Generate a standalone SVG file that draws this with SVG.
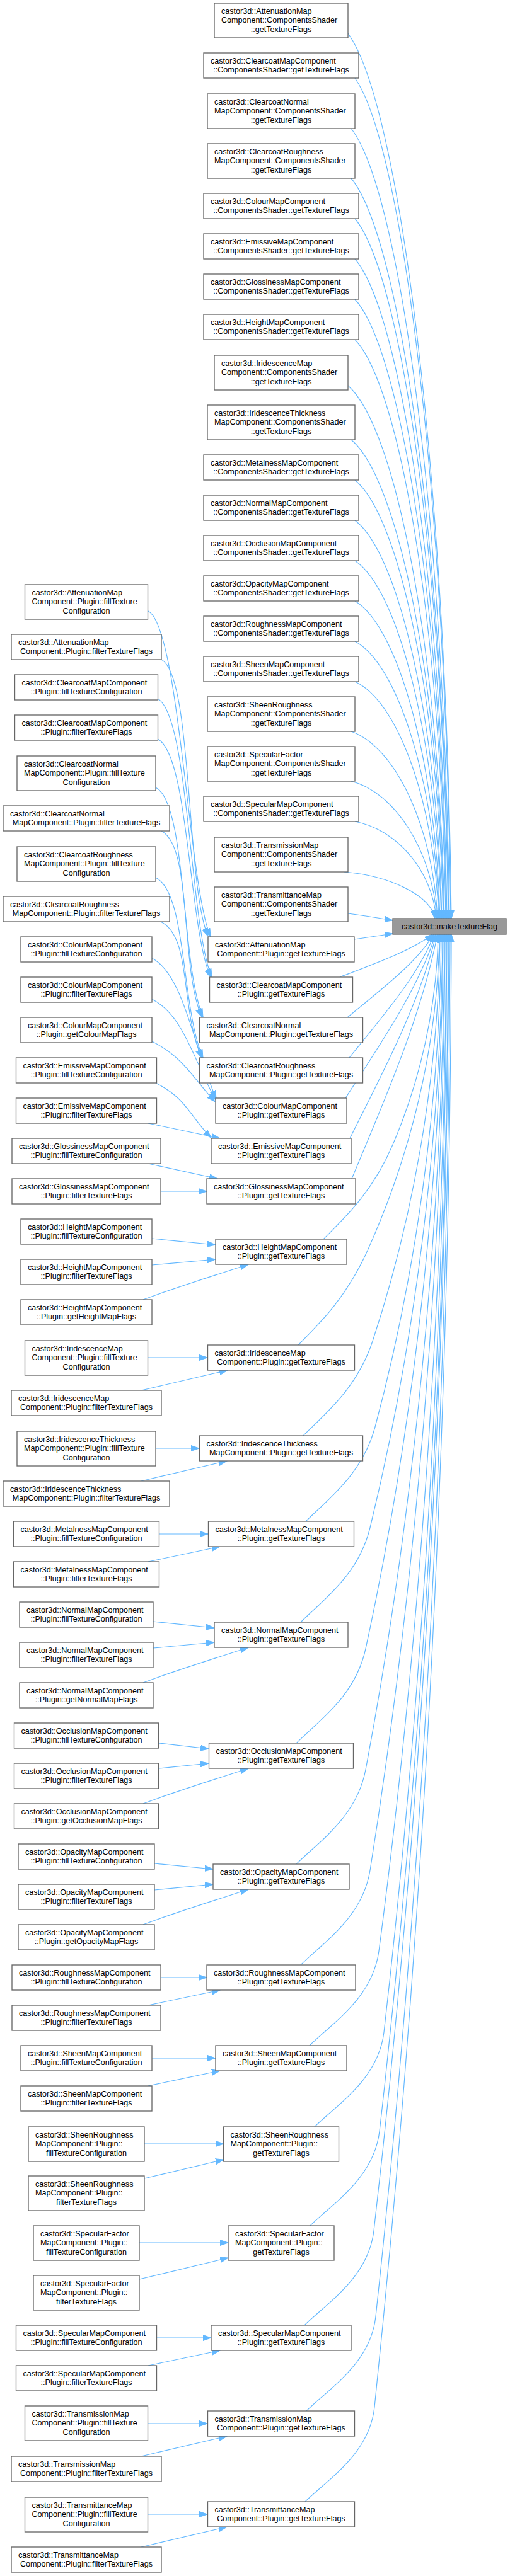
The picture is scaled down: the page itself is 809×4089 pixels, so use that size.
<svg xmlns="http://www.w3.org/2000/svg" width="809" height="4089" viewBox="0 0 809 4089">
<style>
.n rect{fill:#fff;stroke:#666;stroke-width:1.33}
.t rect{fill:#999;stroke:#666;stroke-width:1.33}
text{font-family:"Liberation Sans",Arial,Helvetica,sans-serif;font-size:12.6px;fill:#000}
.c{text-anchor:middle}
#edges path{fill:none;stroke:#63b8ff;stroke-width:1.2;marker-end:url(#ah)}
</style>
<defs>
<marker id="ah" markerUnits="userSpaceOnUse" markerWidth="14" markerHeight="10" refX="13" refY="5" orient="auto" viewBox="0 0 14 10"><path d="M0,0.5 L13,5 L0,9.5 z" fill="#63b8ff" stroke="#63b8ff" stroke-width="1"/></marker>
</defs>
<rect x="0" y="0" width="809" height="4089" fill="#fff"/>
<g id="edges">
<path d="M552,53 C634,165 708,756 716,1458"/>
<path d="M563,124 C639,231 707,791 715,1458"/>
<path d="M557,204 C635,304 705,831 713,1458"/>
<path d="M557,283 C635,377 704,871 712,1458"/>
<path d="M563,347 C637,436 704,903 711,1458"/>
<path d="M563,411 C636,495 702,935 709,1458"/>
<path d="M563,475 C636,554 701,967 708,1458"/>
<path d="M563,539 C635,613 700,999 707,1458"/>
<path d="M552,612 C629,680 697,1035 705,1458"/>
<path d="M557,698 C631,759 697,1078 704,1458"/>
<path d="M563,762 C633,818 696,1110 703,1458"/>
<path d="M563,826 C632,877 694,1142 701,1458"/>
<path d="M563,890 C632,935 693,1174 700,1458"/>
<path d="M563,954 C631,994 691,1206 698,1458"/>
<path d="M563,1018 C630,1053 690,1238 697,1458"/>
<path d="M563,1082 C630,1112 689,1270 696,1458"/>
<path d="M557,1161 C626,1185 687,1310 694,1458"/>
<path d="M557,1240 C625,1257 686,1349 693,1458"/>
<path d="M563,1304 C628,1316 686,1381 692,1458"/>
<path d="M546,1384 C618,1390 683,1421 690,1458"/>
<path d="M552,1450 C576,1453 600,1457 623,1461"/>
<path d="M562,1491 C582,1488 602,1485 623,1482"/>
<path d="M539,1551 C591,1531 657,1507 686,1483"/>
<path d="M551,1615 C599,1575 661,1529 688,1483"/>
<path d="M554,1679 C601,1620 662,1552 689,1483"/>
<path d="M548,1743 C598,1665 662,1574 691,1483"/>
<path d="M555,1807 C603,1710 665,1596 692,1483"/>
<path d="M558,1871 C606,1755 667,1619 694,1483"/>
<path d="M513,1967 C548,1932 591,1892 623,1817 C666,1717 693,1600 695,1483"/>
<path d="M473,2135 C508,2100 549,2060 583,1985 C651,1834 695,1659 697,1483"/>
<path d="M481,2279 C516,2244 566,2204 591,2129 C655,1935 696,1709 698,1483"/>
<path d="M485,2415 C520,2380 575,2340 595,2265 C658,2030 698,1757 700,1483"/>
<path d="M477,2575 C512,2540 569,2500 587,2425 C656,2142 700,1813 702,1483"/>
<path d="M470,2767 C505,2732 564,2692 580,2617 C654,2277 701,1880 703,1483"/>
<path d="M470,2959 C505,2924 566,2884 580,2809 C655,2411 703,1947 705,1483"/>
<path d="M477,3119 C512,3084 575,3044 587,2969 C658,2523 704,2003 706,1483"/>
<path d="M491,3247 C526,3212 591,3172 601,3097 C665,2613 706,2048 708,1483"/>
<path d="M499,3376 C534,3341 600,3301 609,3226 C669,2703 707,2093 709,1483"/>
<path d="M492,3533 C527,3498 593,3458 602,3383 C667,2813 709,2148 711,1483"/>
<path d="M483,3691 C518,3656 584,3616 593,3541 C664,2924 710,2203 712,1483"/>
<path d="M486,3827 C521,3792 588,3752 596,3677 C667,3019 712,2251 714,1483"/>
<path d="M484,3971 C519,3936 586,3896 594,3821 C667,3120 714,2301 716,1483"/>
<path d="M235,970 C285,995 299,1407 334,1487"/>
<path d="M256,1047 C306,1072 295,1406 330,1486"/>
<path d="M250,1109 C300,1134 301,1471 336,1551"/>
<path d="M250,1173 C300,1198 299,1471 334,1551"/>
<path d="M247,1250 C297,1275 287,1534 322,1614"/>
<path d="M256,1319 C306,1344 285,1534 320,1614"/>
<path d="M247,1393 C297,1418 287,1599 322,1679"/>
<path d="M255,1463 C305,1488 285,1599 320,1679"/>
<path d="M241,1521 C291,1546 308,1664 343,1744"/>
<path d="M241,1586 C291,1611 307,1682 342,1746"/>
<path d="M241,1653 C291,1678 306,1711 341,1749"/>
<path d="M247,1719 C297,1744 300,1771 335,1806"/>
<path d="M235,1783 L349,1807"/>
<path d="M235,1847 L345,1871"/>
<path d="M255,1891 L328,1891"/>
<path d="M241,1966 L342,1976"/>
<path d="M241,2008 L342,1999"/>
<path d="M227,2063 C280,2043 340,2025 394,2007"/>
<path d="M235,2155 L329,2155"/>
<path d="M224,2207 L361,2175"/>
<path d="M247,2299 L316,2299"/>
<path d="M224,2351 L360,2319"/>
<path d="M253,2435 L330,2435"/>
<path d="M235,2479 L349,2455"/>
<path d="M243,2574 L340,2584"/>
<path d="M243,2616 L340,2607"/>
<path d="M227,2671 C280,2651 340,2633 394,2615"/>
<path d="M252,2767 L331,2776"/>
<path d="M252,2807 L331,2799"/>
<path d="M227,2863 C280,2843 340,2825 394,2807"/>
<path d="M245,2958 L338,2967"/>
<path d="M245,3000 L338,2991"/>
<path d="M227,3055 C280,3035 340,3017 394,2999"/>
<path d="M255,3139 L328,3139"/>
<path d="M235,3183 L349,3159"/>
<path d="M241,3267 L342,3267"/>
<path d="M235,3311 L349,3287"/>
<path d="M229,3403 L355,3403"/>
<path d="M229,3458 L355,3428"/>
<path d="M221,3560 L362,3560"/>
<path d="M221,3618 L362,3584"/>
<path d="M248,3711 L335,3711"/>
<path d="M235,3755 L349,3731"/>
<path d="M235,3847 L329,3847"/>
<path d="M224,3899 L360,3867"/>
<path d="M235,3991 L329,3991"/>
<path d="M224,4043 L360,4011"/>
</g>
<g id="target" class="t"><rect x="623" y="1458" width="180" height="25"/><text class="c" x="713" y="1475">castor3d::makeTextureFlag</text></g>
<g id="m1" class="n"><rect x="340" y="5" width="212" height="55"/><text x="351" y="21.5">castor3d::AttenuationMap</text><text x="351" y="36.2">Component::ComponentsShader</text><text class="c" x="446" y="50.8">::getTextureFlags</text></g>
<g id="m2" class="n"><rect x="323" y="84" width="246" height="40"/><text x="334" y="100.5">castor3d::ClearcoatMapComponent</text><text class="c" x="446" y="115.2">::ComponentsShader::getTextureFlags</text></g>
<g id="m3" class="n"><rect x="329" y="149" width="234" height="55"/><text x="340" y="165.5">castor3d::ClearcoatNormal</text><text x="340" y="180.2">MapComponent::ComponentsShader</text><text class="c" x="446" y="194.8">::getTextureFlags</text></g>
<g id="m4" class="n"><rect x="329" y="228" width="234" height="55"/><text x="340" y="244.5">castor3d::ClearcoatRoughness</text><text x="340" y="259.2">MapComponent::ComponentsShader</text><text class="c" x="446" y="273.8">::getTextureFlags</text></g>
<g id="m5" class="n"><rect x="323" y="307" width="246" height="40"/><text x="334" y="323.5">castor3d::ColourMapComponent</text><text class="c" x="446" y="338.2">::ComponentsShader::getTextureFlags</text></g>
<g id="m6" class="n"><rect x="323" y="371" width="246" height="40"/><text x="334" y="387.5">castor3d::EmissiveMapComponent</text><text class="c" x="446" y="402.2">::ComponentsShader::getTextureFlags</text></g>
<g id="m7" class="n"><rect x="323" y="435" width="246" height="40"/><text x="334" y="451.5">castor3d::GlossinessMapComponent</text><text class="c" x="446" y="466.2">::ComponentsShader::getTextureFlags</text></g>
<g id="m8" class="n"><rect x="323" y="499" width="246" height="40"/><text x="334" y="515.5">castor3d::HeightMapComponent</text><text class="c" x="446" y="530.2">::ComponentsShader::getTextureFlags</text></g>
<g id="m9" class="n"><rect x="340" y="564" width="212" height="55"/><text x="351" y="580.5">castor3d::IridescenceMap</text><text x="351" y="595.2">Component::ComponentsShader</text><text class="c" x="446" y="609.8">::getTextureFlags</text></g>
<g id="m10" class="n"><rect x="329" y="643" width="234" height="55"/><text x="340" y="659.5">castor3d::IridescenceThickness</text><text x="340" y="674.2">MapComponent::ComponentsShader</text><text class="c" x="446" y="688.8">::getTextureFlags</text></g>
<g id="m11" class="n"><rect x="323" y="722" width="246" height="40"/><text x="334" y="738.5">castor3d::MetalnessMapComponent</text><text class="c" x="446" y="753.2">::ComponentsShader::getTextureFlags</text></g>
<g id="m12" class="n"><rect x="323" y="786" width="246" height="40"/><text x="334" y="802.5">castor3d::NormalMapComponent</text><text class="c" x="446" y="817.2">::ComponentsShader::getTextureFlags</text></g>
<g id="m13" class="n"><rect x="323" y="850" width="246" height="40"/><text x="334" y="866.5">castor3d::OcclusionMapComponent</text><text class="c" x="446" y="881.2">::ComponentsShader::getTextureFlags</text></g>
<g id="m14" class="n"><rect x="323" y="914" width="246" height="40"/><text x="334" y="930.5">castor3d::OpacityMapComponent</text><text class="c" x="446" y="945.2">::ComponentsShader::getTextureFlags</text></g>
<g id="m15" class="n"><rect x="323" y="978" width="246" height="40"/><text x="334" y="994.5">castor3d::RoughnessMapComponent</text><text class="c" x="446" y="1009.2">::ComponentsShader::getTextureFlags</text></g>
<g id="m16" class="n"><rect x="323" y="1042" width="246" height="40"/><text x="334" y="1058.5">castor3d::SheenMapComponent</text><text class="c" x="446" y="1073.2">::ComponentsShader::getTextureFlags</text></g>
<g id="m17" class="n"><rect x="329" y="1106" width="234" height="55"/><text x="340" y="1122.5">castor3d::SheenRoughness</text><text x="340" y="1137.2">MapComponent::ComponentsShader</text><text class="c" x="446" y="1151.8">::getTextureFlags</text></g>
<g id="m18" class="n"><rect x="329" y="1185" width="234" height="55"/><text x="340" y="1201.5">castor3d::SpecularFactor</text><text x="340" y="1216.2">MapComponent::ComponentsShader</text><text class="c" x="446" y="1230.8">::getTextureFlags</text></g>
<g id="m19" class="n"><rect x="323" y="1264" width="246" height="40"/><text x="334" y="1280.5">castor3d::SpecularMapComponent</text><text class="c" x="446" y="1295.2">::ComponentsShader::getTextureFlags</text></g>
<g id="m20" class="n"><rect x="340" y="1329" width="212" height="55"/><text x="351" y="1345.5">castor3d::TransmissionMap</text><text x="351" y="1360.2">Component::ComponentsShader</text><text class="c" x="446" y="1374.8">::getTextureFlags</text></g>
<g id="m21" class="n"><rect x="340" y="1408" width="212" height="55"/><text x="351" y="1424.5">castor3d::TransmittanceMap</text><text x="351" y="1439.2">Component::ComponentsShader</text><text class="c" x="446" y="1453.8">::getTextureFlags</text></g>
<g id="m22" class="n"><rect x="330" y="1487" width="232" height="40"/><text x="341" y="1503.5">castor3d::AttenuationMap</text><text class="c" x="446" y="1518.2">Component::Plugin::getTextureFlags</text></g>
<g id="m23" class="n"><rect x="332.5" y="1551" width="227" height="40"/><text x="343.5" y="1567.5">castor3d::ClearcoatMapComponent</text><text class="c" x="446" y="1582.2">::Plugin::getTextureFlags</text></g>
<g id="m24" class="n"><rect x="316.5" y="1615" width="259" height="40"/><text x="327.5" y="1631.5">castor3d::ClearcoatNormal</text><text class="c" x="446" y="1646.2">MapComponent::Plugin::getTextureFlags</text></g>
<g id="m25" class="n"><rect x="316.5" y="1679" width="259" height="40"/><text x="327.5" y="1695.5">castor3d::ClearcoatRoughness</text><text class="c" x="446" y="1710.2">MapComponent::Plugin::getTextureFlags</text></g>
<g id="m26" class="n"><rect x="342" y="1743" width="208" height="40"/><text x="353" y="1759.5">castor3d::ColourMapComponent</text><text class="c" x="446" y="1774.2">::Plugin::getTextureFlags</text></g>
<g id="m27" class="n"><rect x="335" y="1807" width="222" height="40"/><text x="346" y="1823.5">castor3d::EmissiveMapComponent</text><text class="c" x="446" y="1838.2">::Plugin::getTextureFlags</text></g>
<g id="m28" class="n"><rect x="328" y="1871" width="236" height="40"/><text x="339" y="1887.5">castor3d::GlossinessMapComponent</text><text class="c" x="446" y="1902.2">::Plugin::getTextureFlags</text></g>
<g id="m29" class="n"><rect x="342" y="1967" width="208" height="40"/><text x="353" y="1983.5">castor3d::HeightMapComponent</text><text class="c" x="446" y="1998.2">::Plugin::getTextureFlags</text></g>
<g id="m30" class="n"><rect x="329.5" y="2135" width="233" height="40"/><text x="340.5" y="2151.5">castor3d::IridescenceMap</text><text class="c" x="446" y="2166.2">Component::Plugin::getTextureFlags</text></g>
<g id="m31" class="n"><rect x="316.5" y="2279" width="259" height="40"/><text x="327.5" y="2295.5">castor3d::IridescenceThickness</text><text class="c" x="446" y="2310.2">MapComponent::Plugin::getTextureFlags</text></g>
<g id="m32" class="n"><rect x="330.5" y="2415" width="231" height="40"/><text x="341.5" y="2431.5">castor3d::MetalnessMapComponent</text><text class="c" x="446" y="2446.2">::Plugin::getTextureFlags</text></g>
<g id="m33" class="n"><rect x="340" y="2575" width="212" height="40"/><text x="351" y="2591.5">castor3d::NormalMapComponent</text><text class="c" x="446" y="2606.2">::Plugin::getTextureFlags</text></g>
<g id="m34" class="n"><rect x="331.5" y="2767" width="229" height="40"/><text x="342.5" y="2783.5">castor3d::OcclusionMapComponent</text><text class="c" x="446" y="2798.2">::Plugin::getTextureFlags</text></g>
<g id="m35" class="n"><rect x="338" y="2959" width="216" height="40"/><text x="349" y="2975.5">castor3d::OpacityMapComponent</text><text class="c" x="446" y="2990.2">::Plugin::getTextureFlags</text></g>
<g id="m36" class="n"><rect x="328" y="3119" width="236" height="40"/><text x="339" y="3135.5">castor3d::RoughnessMapComponent</text><text class="c" x="446" y="3150.2">::Plugin::getTextureFlags</text></g>
<g id="m37" class="n"><rect x="342" y="3247" width="208" height="40"/><text x="353" y="3263.5">castor3d::SheenMapComponent</text><text class="c" x="446" y="3278.2">::Plugin::getTextureFlags</text></g>
<g id="m38" class="n"><rect x="354.5" y="3376" width="183" height="55"/><text x="365.5" y="3392.5">castor3d::SheenRoughness</text><text x="365.5" y="3407.2">MapComponent::Plugin::</text><text class="c" x="446" y="3421.8">getTextureFlags</text></g>
<g id="m39" class="n"><rect x="362" y="3533" width="168" height="55"/><text x="373" y="3549.5">castor3d::SpecularFactor</text><text x="373" y="3564.2">MapComponent::Plugin::</text><text class="c" x="446" y="3578.8">getTextureFlags</text></g>
<g id="m40" class="n"><rect x="335" y="3691" width="222" height="40"/><text x="346" y="3707.5">castor3d::SpecularMapComponent</text><text class="c" x="446" y="3722.2">::Plugin::getTextureFlags</text></g>
<g id="m41" class="n"><rect x="329.5" y="3827" width="233" height="40"/><text x="340.5" y="3843.5">castor3d::TransmissionMap</text><text class="c" x="446" y="3858.2">Component::Plugin::getTextureFlags</text></g>
<g id="m42" class="n"><rect x="329.5" y="3971" width="233" height="40"/><text x="340.5" y="3987.5">castor3d::TransmittanceMap</text><text class="c" x="446" y="4002.2">Component::Plugin::getTextureFlags</text></g>
<g id="l1" class="n"><rect x="39.5" y="928" width="195" height="55"/><text x="50.5" y="944.5">castor3d::AttenuationMap</text><text x="50.5" y="959.2">Component::Plugin::fillTexture</text><text class="c" x="137" y="973.8">Configuration</text></g>
<g id="l2" class="n"><rect x="18" y="1007" width="238" height="40"/><text x="29" y="1023.5">castor3d::AttenuationMap</text><text class="c" x="137" y="1038.2">Component::Plugin::filterTextureFlags</text></g>
<g id="l3" class="n"><rect x="23.5" y="1071" width="227" height="40"/><text x="34.5" y="1087.5">castor3d::ClearcoatMapComponent</text><text class="c" x="137" y="1102.2">::Plugin::fillTextureConfiguration</text></g>
<g id="l4" class="n"><rect x="23.5" y="1135" width="227" height="40"/><text x="34.5" y="1151.5">castor3d::ClearcoatMapComponent</text><text class="c" x="137" y="1166.2">::Plugin::filterTextureFlags</text></g>
<g id="l5" class="n"><rect x="27" y="1200" width="220" height="55"/><text x="38" y="1216.5">castor3d::ClearcoatNormal</text><text x="38" y="1231.2">MapComponent::Plugin::fillTexture</text><text class="c" x="137" y="1245.8">Configuration</text></g>
<g id="l6" class="n"><rect x="5" y="1279" width="264" height="40"/><text x="16" y="1295.5">castor3d::ClearcoatNormal</text><text class="c" x="137" y="1310.2">MapComponent::Plugin::filterTextureFlags</text></g>
<g id="l7" class="n"><rect x="27" y="1344" width="220" height="55"/><text x="38" y="1360.5">castor3d::ClearcoatRoughness</text><text x="38" y="1375.2">MapComponent::Plugin::fillTexture</text><text class="c" x="137" y="1389.8">Configuration</text></g>
<g id="l8" class="n"><rect x="5" y="1423" width="264" height="40"/><text x="16" y="1439.5">castor3d::ClearcoatRoughness</text><text class="c" x="137" y="1454.2">MapComponent::Plugin::filterTextureFlags</text></g>
<g id="l9" class="n"><rect x="33" y="1487" width="208" height="40"/><text x="44" y="1503.5">castor3d::ColourMapComponent</text><text class="c" x="137" y="1518.2">::Plugin::fillTextureConfiguration</text></g>
<g id="l10" class="n"><rect x="33" y="1551" width="208" height="40"/><text x="44" y="1567.5">castor3d::ColourMapComponent</text><text class="c" x="137" y="1582.2">::Plugin::filterTextureFlags</text></g>
<g id="l11" class="n"><rect x="33" y="1615" width="208" height="40"/><text x="44" y="1631.5">castor3d::ColourMapComponent</text><text class="c" x="137" y="1646.2">::Plugin::getColourMapFlags</text></g>
<g id="l12" class="n"><rect x="25.5" y="1679" width="223" height="40"/><text x="36.5" y="1695.5">castor3d::EmissiveMapComponent</text><text class="c" x="137" y="1710.2">::Plugin::fillTextureConfiguration</text></g>
<g id="l13" class="n"><rect x="25.5" y="1743" width="223" height="40"/><text x="36.5" y="1759.5">castor3d::EmissiveMapComponent</text><text class="c" x="137" y="1774.2">::Plugin::filterTextureFlags</text></g>
<g id="l14" class="n"><rect x="19" y="1807" width="236" height="40"/><text x="30" y="1823.5">castor3d::GlossinessMapComponent</text><text class="c" x="137" y="1838.2">::Plugin::fillTextureConfiguration</text></g>
<g id="l15" class="n"><rect x="19" y="1871" width="236" height="40"/><text x="30" y="1887.5">castor3d::GlossinessMapComponent</text><text class="c" x="137" y="1902.2">::Plugin::filterTextureFlags</text></g>
<g id="l16" class="n"><rect x="33" y="1935" width="208" height="40"/><text x="44" y="1951.5">castor3d::HeightMapComponent</text><text class="c" x="137" y="1966.2">::Plugin::fillTextureConfiguration</text></g>
<g id="l17" class="n"><rect x="33" y="1999" width="208" height="40"/><text x="44" y="2015.5">castor3d::HeightMapComponent</text><text class="c" x="137" y="2030.2">::Plugin::filterTextureFlags</text></g>
<g id="l18" class="n"><rect x="33" y="2063" width="208" height="40"/><text x="44" y="2079.5">castor3d::HeightMapComponent</text><text class="c" x="137" y="2094.2">::Plugin::getHeightMapFlags</text></g>
<g id="l19" class="n"><rect x="39.5" y="2128" width="195" height="55"/><text x="50.5" y="2144.5">castor3d::IridescenceMap</text><text x="50.5" y="2159.2">Component::Plugin::fillTexture</text><text class="c" x="137" y="2173.8">Configuration</text></g>
<g id="l20" class="n"><rect x="18" y="2207" width="238" height="40"/><text x="29" y="2223.5">castor3d::IridescenceMap</text><text class="c" x="137" y="2238.2">Component::Plugin::filterTextureFlags</text></g>
<g id="l21" class="n"><rect x="27" y="2272" width="220" height="55"/><text x="38" y="2288.5">castor3d::IridescenceThickness</text><text x="38" y="2303.2">MapComponent::Plugin::fillTexture</text><text class="c" x="137" y="2317.8">Configuration</text></g>
<g id="l22" class="n"><rect x="5" y="2351" width="264" height="40"/><text x="16" y="2367.5">castor3d::IridescenceThickness</text><text class="c" x="137" y="2382.2">MapComponent::Plugin::filterTextureFlags</text></g>
<g id="l23" class="n"><rect x="21.5" y="2415" width="231" height="40"/><text x="32.5" y="2431.5">castor3d::MetalnessMapComponent</text><text class="c" x="137" y="2446.2">::Plugin::fillTextureConfiguration</text></g>
<g id="l24" class="n"><rect x="21.5" y="2479" width="231" height="40"/><text x="32.5" y="2495.5">castor3d::MetalnessMapComponent</text><text class="c" x="137" y="2510.2">::Plugin::filterTextureFlags</text></g>
<g id="l25" class="n"><rect x="31" y="2543" width="212" height="40"/><text x="42" y="2559.5">castor3d::NormalMapComponent</text><text class="c" x="137" y="2574.2">::Plugin::fillTextureConfiguration</text></g>
<g id="l26" class="n"><rect x="31" y="2607" width="212" height="40"/><text x="42" y="2623.5">castor3d::NormalMapComponent</text><text class="c" x="137" y="2638.2">::Plugin::filterTextureFlags</text></g>
<g id="l27" class="n"><rect x="31" y="2671" width="212" height="40"/><text x="42" y="2687.5">castor3d::NormalMapComponent</text><text class="c" x="137" y="2702.2">::Plugin::getNormalMapFlags</text></g>
<g id="l28" class="n"><rect x="22.5" y="2735" width="229" height="40"/><text x="33.5" y="2751.5">castor3d::OcclusionMapComponent</text><text class="c" x="137" y="2766.2">::Plugin::fillTextureConfiguration</text></g>
<g id="l29" class="n"><rect x="22.5" y="2799" width="229" height="40"/><text x="33.5" y="2815.5">castor3d::OcclusionMapComponent</text><text class="c" x="137" y="2830.2">::Plugin::filterTextureFlags</text></g>
<g id="l30" class="n"><rect x="22.5" y="2863" width="229" height="40"/><text x="33.5" y="2879.5">castor3d::OcclusionMapComponent</text><text class="c" x="137" y="2894.2">::Plugin::getOcclusionMapFlags</text></g>
<g id="l31" class="n"><rect x="29" y="2927" width="216" height="40"/><text x="40" y="2943.5">castor3d::OpacityMapComponent</text><text class="c" x="137" y="2958.2">::Plugin::fillTextureConfiguration</text></g>
<g id="l32" class="n"><rect x="29" y="2991" width="216" height="40"/><text x="40" y="3007.5">castor3d::OpacityMapComponent</text><text class="c" x="137" y="3022.2">::Plugin::filterTextureFlags</text></g>
<g id="l33" class="n"><rect x="29" y="3055" width="216" height="40"/><text x="40" y="3071.5">castor3d::OpacityMapComponent</text><text class="c" x="137" y="3086.2">::Plugin::getOpacityMapFlags</text></g>
<g id="l34" class="n"><rect x="19" y="3119" width="236" height="40"/><text x="30" y="3135.5">castor3d::RoughnessMapComponent</text><text class="c" x="137" y="3150.2">::Plugin::fillTextureConfiguration</text></g>
<g id="l35" class="n"><rect x="19" y="3183" width="236" height="40"/><text x="30" y="3199.5">castor3d::RoughnessMapComponent</text><text class="c" x="137" y="3214.2">::Plugin::filterTextureFlags</text></g>
<g id="l36" class="n"><rect x="33" y="3247" width="208" height="40"/><text x="44" y="3263.5">castor3d::SheenMapComponent</text><text class="c" x="137" y="3278.2">::Plugin::fillTextureConfiguration</text></g>
<g id="l37" class="n"><rect x="33" y="3311" width="208" height="40"/><text x="44" y="3327.5">castor3d::SheenMapComponent</text><text class="c" x="137" y="3342.2">::Plugin::filterTextureFlags</text></g>
<g id="l38" class="n"><rect x="45" y="3376" width="184" height="55"/><text x="56" y="3392.5">castor3d::SheenRoughness</text><text x="56" y="3407.2">MapComponent::Plugin::</text><text class="c" x="137" y="3421.8">fillTextureConfiguration</text></g>
<g id="l39" class="n"><rect x="45" y="3454" width="184" height="55"/><text x="56" y="3470.5">castor3d::SheenRoughness</text><text x="56" y="3485.2">MapComponent::Plugin::</text><text class="c" x="137" y="3499.8">filterTextureFlags</text></g>
<g id="l40" class="n"><rect x="53" y="3533" width="168" height="55"/><text x="64" y="3549.5">castor3d::SpecularFactor</text><text x="64" y="3564.2">MapComponent::Plugin::</text><text class="c" x="137" y="3578.8">fillTextureConfiguration</text></g>
<g id="l41" class="n"><rect x="53" y="3612" width="168" height="55"/><text x="64" y="3628.5">castor3d::SpecularFactor</text><text x="64" y="3643.2">MapComponent::Plugin::</text><text class="c" x="137" y="3657.8">filterTextureFlags</text></g>
<g id="l42" class="n"><rect x="25.5" y="3691" width="223" height="40"/><text x="36.5" y="3707.5">castor3d::SpecularMapComponent</text><text class="c" x="137" y="3722.2">::Plugin::fillTextureConfiguration</text></g>
<g id="l43" class="n"><rect x="25.5" y="3755" width="223" height="40"/><text x="36.5" y="3771.5">castor3d::SpecularMapComponent</text><text class="c" x="137" y="3786.2">::Plugin::filterTextureFlags</text></g>
<g id="l44" class="n"><rect x="39.5" y="3819" width="195" height="55"/><text x="50.5" y="3835.5">castor3d::TransmissionMap</text><text x="50.5" y="3850.2">Component::Plugin::fillTexture</text><text class="c" x="137" y="3864.8">Configuration</text></g>
<g id="l45" class="n"><rect x="18" y="3899" width="238" height="40"/><text x="29" y="3915.5">castor3d::TransmissionMap</text><text class="c" x="137" y="3930.2">Component::Plugin::filterTextureFlags</text></g>
<g id="l46" class="n"><rect x="39.5" y="3964" width="195" height="55"/><text x="50.5" y="3980.5">castor3d::TransmittanceMap</text><text x="50.5" y="3995.2">Component::Plugin::fillTexture</text><text class="c" x="137" y="4009.8">Configuration</text></g>
<g id="l47" class="n"><rect x="18" y="4043" width="238" height="40"/><text x="29" y="4059.5">castor3d::TransmittanceMap</text><text class="c" x="137" y="4074.2">Component::Plugin::filterTextureFlags</text></g>
</svg>
